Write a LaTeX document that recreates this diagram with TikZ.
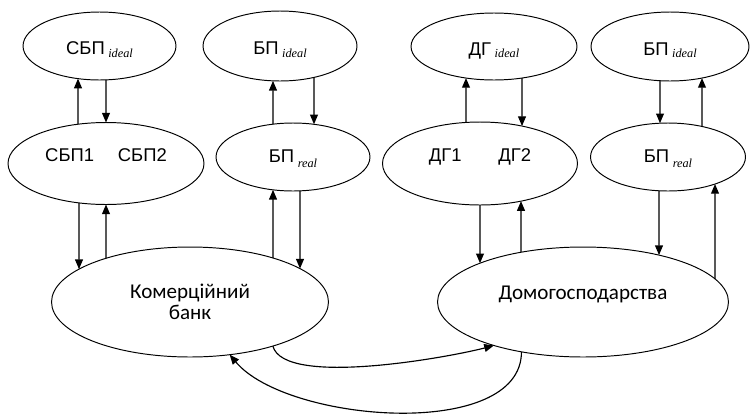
\documentclass[tikz,border=0pt]{standalone}
\usepackage{fontspec}
\setmainfont{Liberation Sans}
\newfontfamily\rndfont{Carlito}
\newfontfamily\serfont{Liberation Serif}
\usetikzlibrary{shapes.geometric,arrows.meta,intersections}
\newcommand\lowtag[2][1.5pt]{\hspace{2pt}\raisebox{-#1}{\serfont\itshape\fontsize{7}{8}\selectfont #2}}
\tikzset{
	oval/.style={ellipse, draw, line width=0.55pt, inner sep=0pt, outer sep=0pt, font=\fontsize{10.5}{12.6}\selectfont},
	top oval/.style={oval, text height=11.5pt, text depth=1.5pt},
	real oval/.style={oval, text height=9.3pt, text depth=2.5pt},
	pair oval/.style={oval, text height=8pt, text depth=10.2pt},
	big oval/.style={oval, font=\rndfont\fontsize{12}{12}\selectfont},
	flowdown/.style={-{Triangle[length=5.5pt,width=4.5pt]}, line width=0.65pt},
	flowup/.style={{Triangle[length=5.5pt,width=4.5pt]}-, line width=0.65pt},
}
\newcommand\vflow[4]{%
	\path[name path=vline] (#1,0) -- (#1,416);
	\path[name intersections={of=vline and #2, sort by=vline, name=hi}];
	\path[name intersections={of=vline and #3, sort by=vline, name=lo}];
	\draw[#4] (hi-2) -- (lo-1);
}
\begin{document}
\begin{tikzpicture}[x=0.02cm, y=-0.02cm]
	\useasboundingbox (0,0) rectangle (750,416);
	\node[top oval, name path=A1, minimum width=3.06cm, minimum height=1.36cm] (A1) at (99.5,46) {СБП\lowtag{ideal}};
	\node[top oval, name path=A2, minimum width=3.08cm, minimum height=1.40cm] (A2) at (280,46) {БП\lowtag{ideal}};
	\node[top oval, name path=A3, minimum width=3.32cm, minimum height=1.34cm] (A3) at (494,46.5) {ДГ\lowtag{ideal}};
	\node[top oval, name path=A4, minimum width=3.16cm, minimum height=1.38cm] (A4) at (670,46.5) {БП\lowtag{ideal}};
	\node[pair oval, name path=B1, minimum width=3.92cm, minimum height=1.64cm] (B1) at (106,163.5) {СБП1\hspace{13.5pt}СБП2\hspace{9pt}};
	\node[real oval, name path=B2, minimum width=3.08cm, minimum height=1.36cm] (B2) at (293,157) {БП\lowtag[2.5pt]{real}};
	\node[pair oval, name path=B3, minimum width=3.90cm, minimum height=1.66cm] (B3) at (480,163.5) {ДГ1\hspace{21pt}ДГ2\hspace{9pt}};
	\node[real oval, name path=B4, minimum width=3.10cm, minimum height=1.36cm] (B4) at (668,157) {БП\lowtag[2.5pt]{real}};
	\node[big oval, name path=C1, align=center, minimum width=5.54cm, minimum height=2.20cm] (C1) at (190,302) {Комерційний\\банк};
	\node[big oval, name path=C2, text height=9pt, text depth=12.4pt, minimum width=5.82cm, minimum height=2.20cm] (C2) at (583,302) {Домогосподарства};
	\vflow{78}{A1}{B1}{flowup}
	\vflow{106}{A1}{B1}{flowdown}
	\vflow{273}{A2}{B2}{flowup}
	\vflow{314}{A2}{B2}{flowdown}
	\vflow{466}{A3}{B3}{flowup}
	\vflow{522}{A3}{B3}{flowdown}
	\vflow{660}{A4}{B4}{flowdown}
	\vflow{702}{A4}{B4}{flowup}
	\vflow{79}{B1}{C1}{flowdown}
	\vflow{106}{B1}{C1}{flowup}
	\vflow{273}{B2}{C1}{flowup}
	\vflow{300}{B2}{C1}{flowdown}
	\vflow{480}{B3}{C2}{flowdown}
	\vflow{521}{B3}{C2}{flowup}
	\vflow{659}{B4}{C2}{flowdown}
	\vflow{715}{B4}{C2}{flowup}
	\draw[flowdown] (C1.-28) to[out=-75, in=195, looseness=0.5] (C2.206);
	\draw[flowdown] (C2.219) to[out=-90, in=-50, looseness=0.78] (C1.-53);
\end{tikzpicture}
\end{document}
